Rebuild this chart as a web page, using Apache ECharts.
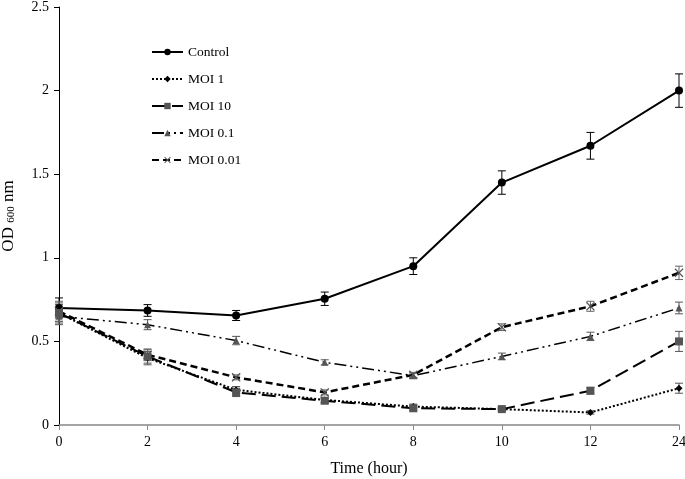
<!DOCTYPE html>
<html><head><meta charset="utf-8">
<script src="https://cdn.jsdelivr.net/npm/echarts@6/dist/echarts.min.js"></script>
<style>html,body{margin:0;padding:0;background:#fff}#c{width:685px;height:479px}</style>
</head><body><div id="c"></div>
<script>
const categories = ['0','2','4','6','8','10','12','24'];
const control   = [0.70, 0.685, 0.655, 0.755, 0.95, 1.45, 1.67, 2.00];
const controlErr= [0.06, 0.035, 0.03, 0.04, 0.05, 0.07, 0.08, 0.10];
const moi1      = [0.67, 0.40, 0.21, 0.15, 0.11, 0.095, 0.075, 0.22];
const moi1Err   = [0.05, 0.04, 0.02, 0.015, 0.015, 0.01, 0.01, 0.03];
const moi10     = [0.67, 0.41, 0.195, 0.145, 0.10, 0.095, 0.205, 0.50];
const moi10Err  = [0.06, 0.04, 0.025, 0.015, 0.015, 0.01, 0.02, 0.06];
const moi01     = [0.65, 0.60, 0.505, 0.375, 0.295, 0.41, 0.53, 0.70];
const moi01Err  = [0.05, 0.03, 0.025, 0.015, 0.015, 0.02, 0.025, 0.035];
const moi001    = [0.68, 0.42, 0.285, 0.195, 0.30, 0.585, 0.71, 0.91];
const moi001Err = [0.06, 0.035, 0.015, 0.015, 0.015, 0.02, 0.03, 0.04];
const yTicks = [0, 0.5, 1, 1.5, 2, 2.5];

const FONT = 'Liberation Serif';
const xMark = 'path://M0,1L1,0L5,4L9,0L10,1L6,5L10,9L9,10L5,6L1,10L0,9L4,5Z';

function errSeries(vals, errs, color) {
  return {
    type: 'custom', silent: true, z: 1,
    data: vals.map((v, i) => [i, v - errs[i], v + errs[i]]),
    renderItem: function (params, api) {
      const lo = api.coord([api.value(0), api.value(1)]);
      const hi = api.coord([api.value(0), api.value(2)]);
      const w = 4;
      const st = { stroke: color, lineWidth: 1 };
      return { type: 'group', children: [
        { type: 'line', shape: { x1: lo[0], y1: lo[1], x2: hi[0], y2: hi[1] }, style: st },
        { type: 'line', shape: { x1: lo[0]-w, y1: lo[1], x2: lo[0]+w, y2: lo[1] }, style: st },
        { type: 'line', shape: { x1: hi[0]-w, y1: hi[1], x2: hi[0]+w, y2: hi[1] }, style: st }
      ]};
    }
  };
}

function lineSeries(name, data, symbol, size, color, lineType, width) {
  return {
    name, type: 'line', data, symbol, symbolSize: size, z: 3,
    itemStyle: { color: color },
    lineStyle: { color: '#000', width: width, type: lineType },
    emphasis: { disabled: true }
  };
}

const chart = echarts.init(document.getElementById('c'));
chart.setOption({
  animation: false,
  backgroundColor: '#fff',
  grid: { left: 59, right: 6, top: 7, bottom: 54, outerBoundsMode: 'none', containLabel: false },
  legend: {
    orient: 'vertical', left: 146, top: 40,
    itemWidth: 31, itemHeight: 8, itemGap: 13,
    textStyle: { fontFamily: FONT, fontSize: 13.5, color: '#000' },
    data: ['Control', 'MOI 1', 'MOI 10', 'MOI 0.1', 'MOI 0.01']
  },
  xAxis: {
    type: 'category', data: categories, boundaryGap: false,
    name: 'Time (hour)', nameLocation: 'middle', nameGap: 36,
    nameTextStyle: { fontFamily: FONT, fontSize: 16, color: '#000' },
    axisLine: { lineStyle: { color: '#888', width: 1.5 } },
    axisTick: { show: true, alignWithLabel: true, length: 5, lineStyle: { color: '#888' } },
    axisLabel: { fontFamily: FONT, fontSize: 14, color: '#000', margin: 10 },
    splitLine: { show: false }
  },
  yAxis: {
    type: 'value', min: 0, max: 2.5, interval: 0.5,
    name: '{a|OD }{s|600}{a| nm}', nameLocation: 'middle', nameGap: 42, nameRotate: 90,
    nameTextStyle: { rich: {
      a: { fontFamily: FONT, fontSize: 17, color: '#000' },
      s: { fontFamily: FONT, fontSize: 11, color: '#000', verticalAlign: 'bottom', padding: [5,0,0,0] }
    }},
    axisLine: { show: true, lineStyle: { color: '#000', width: 1 } },
    axisTick: { show: true, length: 5, lineStyle: { color: '#000' } },
    axisLabel: { fontFamily: FONT, fontSize: 14, color: '#000', margin: 10,
      formatter: v => yTicks.includes(v) ? String(v) : '' },
    splitLine: { show: false }
  },
  series: [
    errSeries(control, controlErr, '#000'),
    errSeries(moi1, moi1Err, '#555'),
    errSeries(moi10, moi10Err, '#555'),
    errSeries(moi01, moi01Err, '#555'),
    errSeries(moi001, moi001Err, '#666'),
    lineSeries('Control', control, 'circle', 8, '#000', 'solid', 2),
    lineSeries('MOI 1', moi1, 'diamond', 7, '#000', [2, 2], 2),
    lineSeries('MOI 10', moi10, 'rect', 8, '#555', [14, 6], 2),
    lineSeries('MOI 0.1', moi01, 'triangle', 7, '#555', [12, 4, 2, 4, 2, 4], 1.5),
    lineSeries('MOI 0.01', moi001, xMark, 9, '#555', [7, 4], 2.5)
  ]
});
</script></body></html>
